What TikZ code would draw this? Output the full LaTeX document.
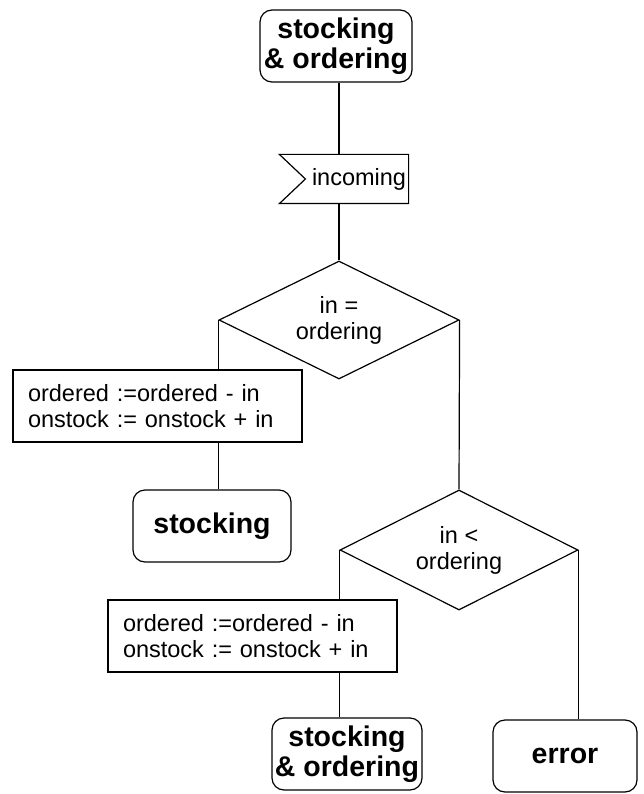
\documentclass[tikz,border=0pt]{standalone}
\usepackage{fontspec}
\setmainfont{Liberation Sans}
\usetikzlibrary{shapes.geometric}
\begin{document}
\begin{tikzpicture}[x=1pt,y=-1pt,line width=1.2pt,
	state/.style={draw,rounded corners=12pt,minimum height=72pt,inner sep=0pt,align=center,
		font=\fontsize{28.5}{30}\selectfont\bfseries},
	task/.style={draw,minimum height=72pt,text width=259pt,inner xsep=15pt,align=left,
		font=\fontsize{23.5}{26}\selectfont},
	test/.style={draw,diamond,aspect=2,inner sep=0pt,align=center,font=\fontsize{23.5}{26}\selectfont}]
	\useasboundingbox (0,0) rectangle (644,794);
	\node[state,minimum width=152pt] (start) at (336,46) {stocking\\\& ordering};
	\node[minimum width=128pt,minimum height=48pt,inner sep=0pt] (inc) at (344,179) {};
		\draw (inc.north west)--(inc.north east)--(inc.south east)--(inc.south west)--([xshift=26pt]inc.west)--cycle;
		\node[anchor=west,inner sep=0pt,font=\fontsize{23.5}{26}\selectfont] (inctext) at ([xshift=32pt]inc.west) {incoming};
	\node[test,minimum width=240pt,minimum height=118pt] (eq) at (339,320) {in =\\ordering};
	\node[task] (upd1) at (157.5,406) {ordered :=ordered - in\\onstock := onstock + in};
	\node[state,minimum width=158pt] (stock) at (212,526) {stocking};
	\node[test,minimum width=238pt,minimum height=120pt] (less) at (459,550) {in <\\ordering};
	\node[task] (upd2) at (252.5,636) {ordered :=ordered - in\\onstock := onstock + in};
	\node[state,minimum width=150pt] (again) at (347,754) {stocking\\\& ordering};
	\node[state,minimum width=144pt] (err) at (565,756) {error};
	% connectors
	\draw (eq.north|-start.south)--(eq.north|-inc.north);
	\draw (eq.north|-inc.south)--(eq.north);
	\draw (eq.west)--(eq.west|-upd1.north);
	\draw (eq.west|-upd1.south)--(eq.west|-stock.north);
	\draw (eq.east)--(less.north);
	\draw (less.west)--(less.west|-upd2.north);
	\draw (less.west|-upd2.south)--(less.west|-again.north);
	\draw (less.east)--(less.east|-err.north);
\end{tikzpicture}
\end{document}
